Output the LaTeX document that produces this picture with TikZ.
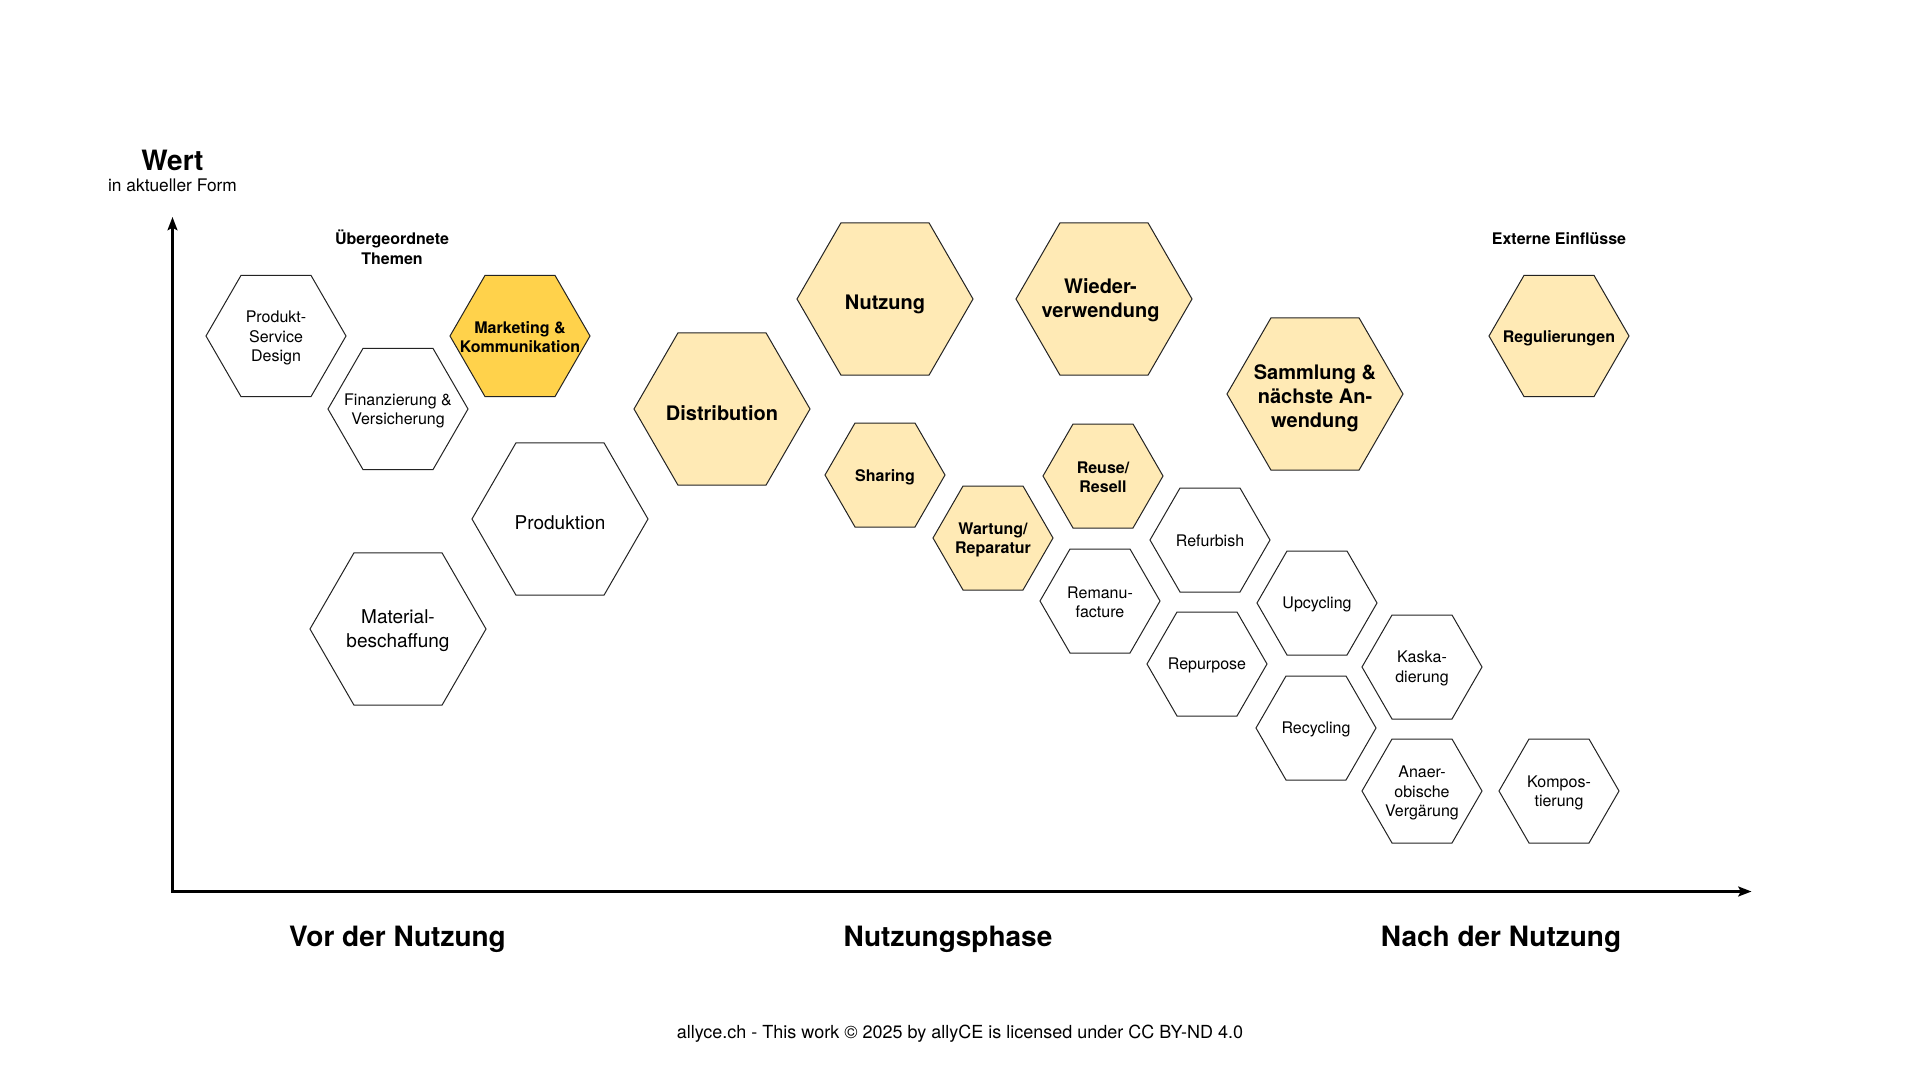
\documentclass[tikz,border=0pt]{standalone}
\usepackage{fontspec}
\setmainfont{TeX Gyre Heros}
\usetikzlibrary{arrows.meta}

\definecolor{cellpale}{RGB}{255,234,181}
\definecolor{cellgold}{RGB}{255,210,75}
\definecolor{cellline}{RGB}{35,35,35}

\begin{document}
\begin{tikzpicture}[x=0.75pt,y=0.75pt,yscale=-1,xscale=1,
  hexw/.style={draw=cellline, line width=0.75pt, fill=white},
  hexp/.style={draw=cellline, line width=0.75pt, fill=cellpale},
  hexg/.style={draw=cellline, line width=0.75pt, fill=cellgold},
  txtn/.style={font=\fontsize{12pt}{14.4pt}\selectfont, align=center},
  txtb/.style={font=\bfseries\fontsize{12pt}{14.4pt}\selectfont, align=center},
  txtln/.style={font=\fontsize{14.25pt}{17.5pt}\selectfont, align=center},
  txtlb/.style={font=\bfseries\fontsize{15pt}{18pt}\selectfont, align=center},
  phase/.style={font=\bfseries\fontsize{21pt}{25pt}\selectfont, anchor=base}]
%set diagram to 1920 x 1080
\path [fill=white] (0,0) rectangle (1920,1080);
\useasboundingbox (0,0) rectangle (1920,1080);

%Axes
\coordinate (origin) at (172.5,891.5);
\coordinate (ytip) at (172.5,217);
\coordinate (xtip) at (1751.5,891.5);
\draw [line width=1.75pt, {Stealth[length=10pt,width=7.5pt,inset=2pt]}-{Stealth[length=10pt,width=7.5pt,inset=2pt]}] (ytip) -- (origin) -- (xtip) ;

%Shape: Hexagon (Produkt-Service Design)
\draw [hexw] (276,336) +(-70,0) -- +(-35,-60.6) -- +(35,-60.6) -- +(70,0) -- +(35,60.6) -- +(-35,60.6) -- cycle ;
%Shape: Hexagon (Finanzierung)
\draw [hexw] (398,409) +(-70,0) -- +(-35,-60.6) -- +(35,-60.6) -- +(70,0) -- +(35,60.6) -- +(-35,60.6) -- cycle ;
%Shape: Hexagon (Marketing)
\draw [hexg] (520,336) +(-70,0) -- +(-35,-60.6) -- +(35,-60.6) -- +(70,0) -- +(35,60.6) -- +(-35,60.6) -- cycle ;
%Shape: Hexagon (Regulierungen)
\draw [hexp] (1559,336) +(-70,0) -- +(-35,-60.6) -- +(35,-60.6) -- +(70,0) -- +(35,60.6) -- +(-35,60.6) -- cycle ;
%Shape: Hexagon (Produktion)
\draw [hexw] (560,519) +(-88,0) -- +(-44,-76.2) -- +(44,-76.2) -- +(88,0) -- +(44,76.2) -- +(-44,76.2) -- cycle ;
%Shape: Hexagon (Materialbeschaffung)
\draw [hexw] (398,629) +(-88,0) -- +(-44,-76.2) -- +(44,-76.2) -- +(88,0) -- +(44,76.2) -- +(-44,76.2) -- cycle ;
%Shape: Hexagon (Distribution)
\draw [hexp] (722,409) +(-88,0) -- +(-44,-76.2) -- +(44,-76.2) -- +(88,0) -- +(44,76.2) -- +(-44,76.2) -- cycle ;
%Shape: Hexagon (Nutzung)
\draw [hexp] (885,299) +(-88,0) -- +(-44,-76.2) -- +(44,-76.2) -- +(88,0) -- +(44,76.2) -- +(-44,76.2) -- cycle ;
%Shape: Hexagon (Wiederverwendung)
\draw [hexp] (1104,299) +(-88,0) -- +(-44,-76.2) -- +(44,-76.2) -- +(88,0) -- +(44,76.2) -- +(-44,76.2) -- cycle ;
%Shape: Hexagon (Sammlung)
\draw [hexp] (1315,394) +(-88,0) -- +(-44,-76.2) -- +(44,-76.2) -- +(88,0) -- +(44,76.2) -- +(-44,76.2) -- cycle ;
%Shape: Hexagon (Sharing)
\draw [hexp] (885,475) +(-60,0) -- +(-30,-52) -- +(30,-52) -- +(60,0) -- +(30,52) -- +(-30,52) -- cycle ;
%Shape: Hexagon (Wartung)
\draw [hexp] (993,538) +(-60,0) -- +(-30,-52) -- +(30,-52) -- +(60,0) -- +(30,52) -- +(-30,52) -- cycle ;
%Shape: Hexagon (Reuse)
\draw [hexp] (1103,476) +(-60,0) -- +(-30,-52) -- +(30,-52) -- +(60,0) -- +(30,52) -- +(-30,52) -- cycle ;
%Shape: Hexagon (Refurbish)
\draw [hexw] (1210,540) +(-60,0) -- +(-30,-52) -- +(30,-52) -- +(60,0) -- +(30,52) -- +(-30,52) -- cycle ;
%Shape: Hexagon (Remanufacture)
\draw [hexw] (1100,601) +(-60,0) -- +(-30,-52) -- +(30,-52) -- +(60,0) -- +(30,52) -- +(-30,52) -- cycle ;
%Shape: Hexagon (Upcycling)
\draw [hexw] (1317,603) +(-60,0) -- +(-30,-52) -- +(30,-52) -- +(60,0) -- +(30,52) -- +(-30,52) -- cycle ;
%Shape: Hexagon (Repurpose)
\draw [hexw] (1207,664) +(-60,0) -- +(-30,-52) -- +(30,-52) -- +(60,0) -- +(30,52) -- +(-30,52) -- cycle ;
%Shape: Hexagon (Kaskadierung)
\draw [hexw] (1422,667) +(-60,0) -- +(-30,-52) -- +(30,-52) -- +(60,0) -- +(30,52) -- +(-30,52) -- cycle ;
%Shape: Hexagon (Recycling)
\draw [hexw] (1316,728) +(-60,0) -- +(-30,-52) -- +(30,-52) -- +(60,0) -- +(30,52) -- +(-30,52) -- cycle ;
%Shape: Hexagon (Anaerobische Vergaerung)
\draw [hexw] (1422,791) +(-60,0) -- +(-30,-52) -- +(30,-52) -- +(60,0) -- +(30,52) -- +(-30,52) -- cycle ;
%Shape: Hexagon (Kompostierung)
\draw [hexw] (1559,791) +(-60,0) -- +(-30,-52) -- +(30,-52) -- +(60,0) -- +(30,52) -- +(-30,52) -- cycle ;

% Text Node
\draw (172.5,160) node (wert) [font=\bfseries\fontsize{21pt}{25pt}\selectfont] {Wert};
% Text Node
\draw (172.5,185.7) node (form) [font=\fontsize{13pt}{15.6pt}\selectfont] {in aktueller Form};
% Text Node
\draw (392,247.3) node (themen) [txtb] {Übergeordnete\\Themen};
% Text Node
\draw (1559,238.8) node (extern) [txtb] {Externe Einflüsse};
% Text Node
\draw (276,338) node (psd) [txtn] {Produkt-\\Service\\Design};
% Text Node
\draw (398,411) node (fin) [txtn] {Finanzierung \&\\Versicherung};
% Text Node
\draw (520,337.5) node (mkt) [txtb] {Marketing \&\\Kommunikation};
% Text Node
\draw (1559,338.5) node (reg) [txtb] {Regulierungen};
% Text Node
\draw (560,522.5) node (prod) [txtln] {Produktion};
% Text Node
\draw (398,630.5) node (mat) [txtln] {Material-\\beschaffung};
% Text Node
\draw (722,413) node (dist) [txtlb] {Distribution};
% Text Node
\draw (885,304) node (nutz) [txtlb] {Nutzung};
% Text Node
\draw (1100.5,300.5) node (wieder) [txtlb] {Wieder-\\verwendung};
% Text Node
\draw (1315,398) node (samml) [txtlb] {Sammlung \&\\nächste An-\\wendung};
% Text Node
\draw (885,477.5) node (sharing) [txtb] {Sharing};
% Text Node
\draw (993,540) node (wartung) [txtb] {Wartung/\\Reparatur};
% Text Node
\draw (1103,477) node (reuse) [txtb] {Reuse/\\Resell};
% Text Node
\draw (1210,540.5) node (refurb) [txtn] {Refurbish};
% Text Node
\draw (1100,602) node (reman) [txtn] {Remanu-\\facture};
% Text Node
\draw (1317,604.5) node (upcyc) [txtn] {Upcycling};
% Text Node
\draw (1207,665.5) node (repurp) [txtn] {Repurpose};
% Text Node
\draw (1422,668.5) node (kaskad) [txtn] {Kaska-\\dierung};
% Text Node
\draw (1316,729.5) node (recyc) [txtn] {Recycling};
% Text Node
\draw (1422,793) node (anaer) [txtn] {Anaer-\\obische\\Vergärung};
% Text Node
\draw (1559,793) node (kompost) [txtn] {Kompos-\\tierung};
% Text Node
\draw (397.5,946.5) node (vor) [phase] {Vor der Nutzung};
% Text Node
\draw (948,946.5) node (phase) [phase] {Nutzungsphase};
% Text Node
\draw (1501,946.5) node (nach) [phase] {Nach der Nutzung};
% Text Node
\draw (960,1038.5) node (footer) [anchor=base, font=\fontsize{13.5pt}{16pt}\selectfont] {allyce.ch - This work © 2025 by allyCE is licensed under CC BY-ND 4.0};

\end{tikzpicture}
\end{document}
